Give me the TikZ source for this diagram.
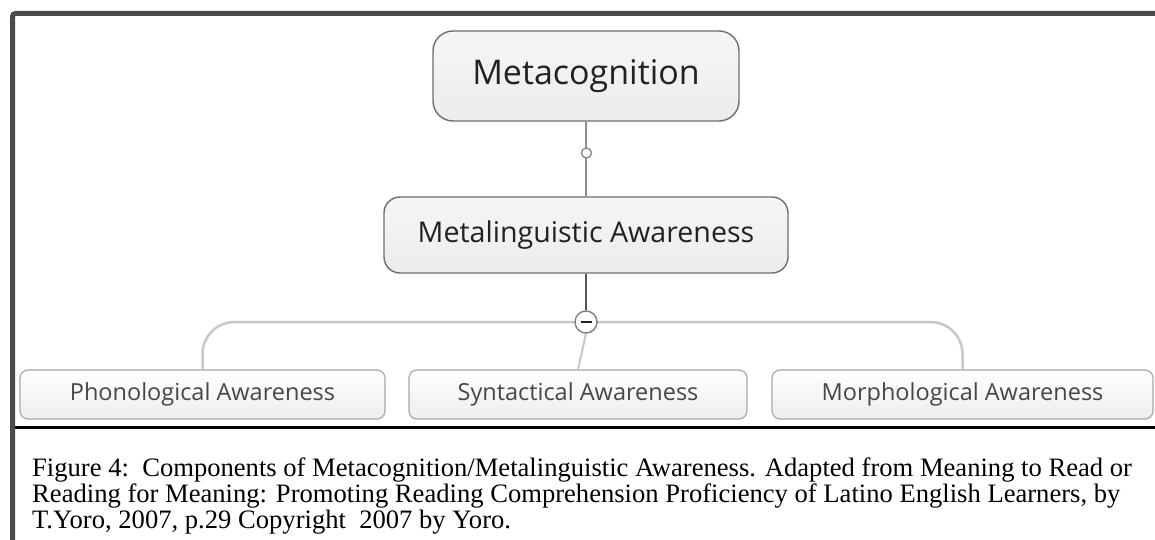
\documentclass[tikz,border=0pt]{standalone}
\usepackage{fontspec}
\setmainfont{Liberation Serif}
\newfontfamily\uifont{Open Sans}
\usetikzlibrary{backgrounds}
\definecolor{framegray}{HTML}{4A4A4A}
\definecolor{topborder}{HTML}{6E6E6E}
\definecolor{botborder}{HTML}{A8A8A8}
\definecolor{linkgray}{HTML}{8C8C8C}
\definecolor{darklink}{HTML}{555555}
\definecolor{branchgray}{HTML}{C8C8C8}
\definecolor{toptext}{HTML}{222222}
\definecolor{bottext}{HTML}{474747}
\tikzset{
  topbox/.style={draw=topborder, line width=1.4pt, top color=white!40!gray!12, bottom color=gray!15,
    inner sep=0pt, text=toptext, font=\uifont},
  botbox/.style={draw=botborder, line width=1.2pt, rounded corners=8pt, top color=white, bottom color=gray!14,
    minimum height=49pt, inner sep=0pt, text=bottext, font=\uifont\fontsize{23.5}{28}\selectfont},
  knobstyle/.style={circle, draw=linkgray, line width=1.4pt, fill=white, minimum size=10pt, inner sep=0pt},
  minusstyle/.style={circle, draw=gray, line width=1.4pt, fill=white, minimum size=22pt, inner sep=0pt},
  captext/.style={anchor=base west, inner sep=0pt, font=\fontsize{26.6}{26}\selectfont, text=black}
}
\begin{document}
\begin{tikzpicture}[x=1pt,y=-1pt]
\useasboundingbox (0,0) rectangle (1155,540);

% frame
\draw[framegray, line width=5pt, rounded corners=3pt] (1160,13.5) -- (12.5,13.5) -- (12.5,545);
\draw[black, line width=3pt] (15,427) -- (1160,427);

% nodes
\node[topbox, rounded corners=20pt, minimum width=306pt, minimum height=90pt, font=\uifont\fontsize{34}{40}\selectfont] (meta) at (586,76) {Metacognition};
\node[topbox, rounded corners=16pt, minimum width=404pt, minimum height=76pt, font=\uifont\fontsize{28.6}{34}\selectfont] (ml) at (586,235) {Metalinguistic Awareness};
\node[knobstyle] (knob) at (586.5,153) {};
\node[minusstyle] (minus) at (586,322) {};
\draw[toptext, line width=1.8pt] ([xshift=-5.5pt]minus.center) -- ([xshift=5.5pt]minus.center);

\node[botbox, minimum width=365pt] (phon) at (202.5,394.5) {Phonological Awareness};
\node[botbox, minimum width=338pt] (syn) at (578,394.5) {Syntactical Awareness};
\node[botbox, minimum width=381pt] (morph) at (962.5,394.5) {Morphological Awareness};

% caption
\node[captext] (cap1) at (32,476) {Figure 4:\ \ Components of Metacognition/Metalinguistic Awareness. Adapted from Meaning to Read or};
\node[captext] (cap2) at (32,502) {Reading for Meaning: Promoting Reading Comprehension Proficiency of Latino English Learners, by};
\node[captext] (cap3) at (32,528) {T.Yoro, 2007, p.29 Copyright\ \ 2007 by Yoro.};

% connectors
\begin{scope}[on background layer]
  \fill[white] (0,0) rectangle (1155,540);
  \draw[linkgray, line width=2pt] (meta.south) -- (ml.north);
  \draw[darklink, line width=1.5pt] (ml.south) -- (minus.north);
  \draw[branchgray, line width=2.5pt, rounded corners=32pt] (phon.north) |- (minus.center) -| (morph.north);
  \draw[branchgray, line width=2pt] (minus.south) -- (syn.north);
\end{scope}
\end{tikzpicture}
\end{document}
